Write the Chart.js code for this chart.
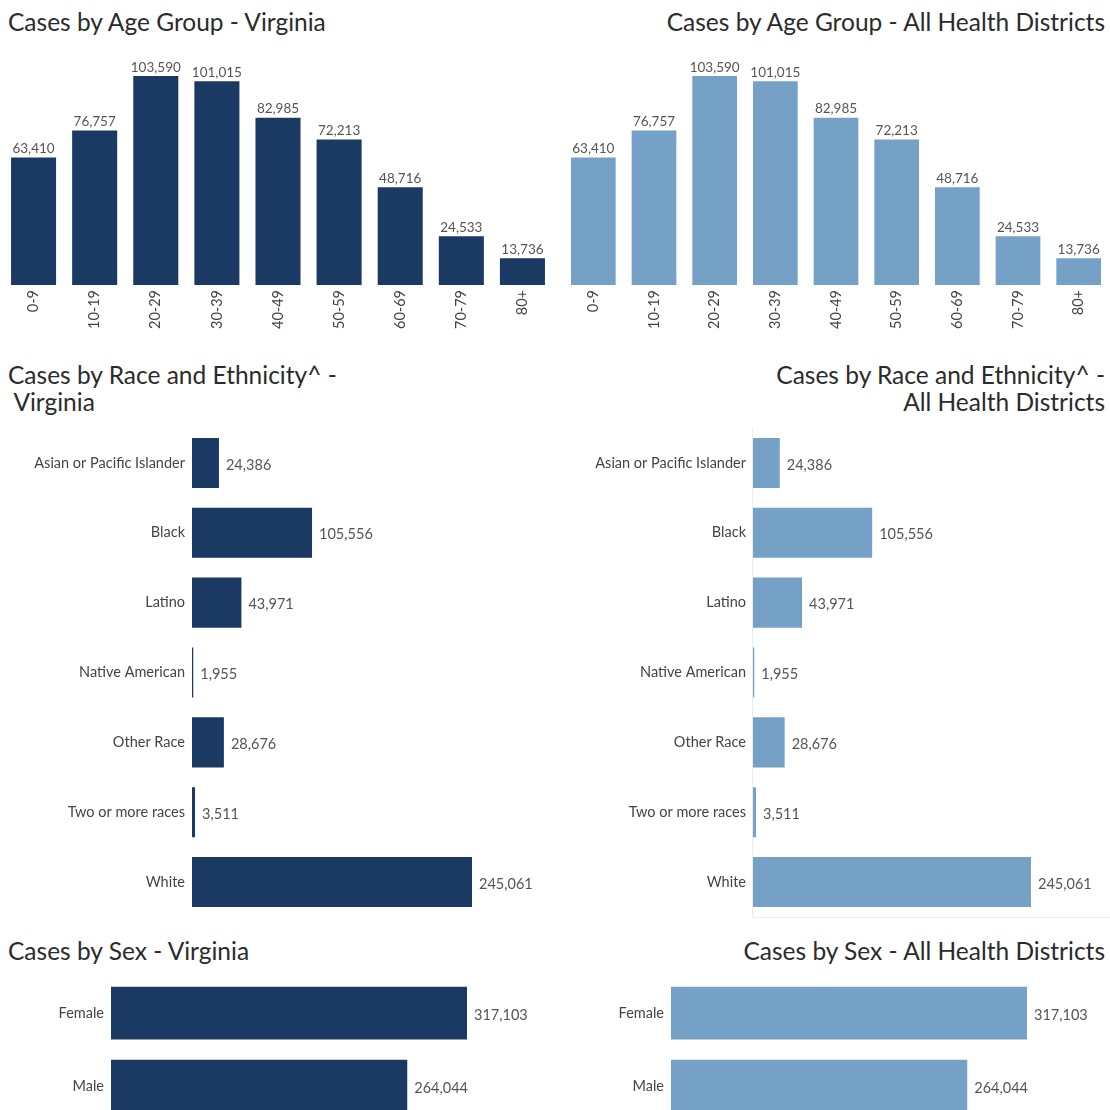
<!DOCTYPE html>
<html>
<head>
<meta charset="utf-8">
<title>Cases by Demographics</title>
<script src="https://cdn.jsdelivr.net/npm/chart.js@4"></script>
<style>
    body { margin: 0; width: 1110px; height: 1110px; overflow: hidden; background: #fff; font-family: Lato, sans-serif; }
    .title { position: absolute; font-size: 24.5px; color: #2b2b2b; line-height: 27px; white-space: pre; }
    .left { left: 8px; text-align: left; }
    .right { right: 5px; text-align: right; }
    canvas { position: absolute; }
</style>
</head>
<body>

<div class="title left" style="top:8px">Cases by Age Group - Virginia</div>
<div class="title right" style="top:8px">Cases by Age Group - All Health Districts</div>
<div class="title left" style="top:361px">Cases by Race and Ethnicity^ -
 Virginia</div>
<div class="title right" style="top:361px">Cases by Race and Ethnicity^ -
All Health Districts</div>
<div class="title left" style="top:937px">Cases by Sex - Virginia</div>
<div class="title right" style="top:937px">Cases by Sex - All Health Districts</div>

<canvas id="ageVA" width="556" height="340" style="left:0;top:0"></canvas>
<canvas id="ageHD" width="552" height="340" style="left:560px;top:0"></canvas>
<canvas id="raceVA" width="556" height="500" style="left:0;top:420px"></canvas>
<canvas id="raceHD" width="550" height="500" style="left:560px;top:420px"></canvas>
<canvas id="sexVA" width="556" height="160" style="left:0;top:970px"></canvas>
<canvas id="sexHD" width="550" height="160" style="left:560px;top:970px"></canvas>

<script>
// Case counts
const ageGroups = ['0-9', '10-19', '20-29', '30-39', '40-49', '50-59', '60-69', '70-79', '80+'];
const ageCases = [63410, 76757, 103590, 101015, 82985, 72213, 48716, 24533, 13736];

const raceGroups = ['Asian or Pacific Islander', 'Black', 'Latino', 'Native American', 'Other Race', 'Two or more races', 'White'];
const raceCases = [24386, 105556, 43971, 1955, 28676, 3511, 245061];

const sexGroups = ['Female', 'Male'];
const sexCases = [317103, 264044];

const DARK = '#1b3a63';
const LIGHT = '#75a1c7';

Chart.defaults.font.family = 'Lato, sans-serif';
Chart.defaults.animation = false;

// writes the count next to / above each bar
const valueLabels = {
    id: 'valueLabels',
    afterDatasetsDraw(chart) {
        const ctx = chart.ctx;
        const horizontal = chart.options.indexAxis === 'y';
        const meta = chart.getDatasetMeta(0);
        const values = chart.data.datasets[0].data;
        ctx.save();
        ctx.fillStyle = '#555';
        meta.data.forEach(function (bar, i) {
            const text = values[i].toLocaleString('en-US');
            if (horizontal) {
                ctx.font = '14.5px Lato, sans-serif';
                ctx.textAlign = 'left';
                ctx.textBaseline = 'middle';
                ctx.fillText(text, bar.x + 6, bar.y + 2);
            } else {
                ctx.font = '13.5px Lato, sans-serif';
                ctx.textAlign = 'center';
                ctx.textBaseline = 'bottom';
                ctx.fillText(text, bar.x, bar.y - 1);
            }
        });
        ctx.restore();
    }
};

// faint frame on the left and bottom of the plot
const frame = {
    id: 'frame',
    beforeDatasetsDraw(chart, args, opts) {
        if (!opts.show) return;
        const a = chart.chartArea;
        const ctx = chart.ctx;
        ctx.save();
        ctx.strokeStyle = '#ececec';
        ctx.lineWidth = 1;
        ctx.beginPath();
        ctx.moveTo(a.left - 0.5, a.top);
        ctx.lineTo(a.left - 0.5, a.bottom + 0.5);
        ctx.lineTo(chart.width, a.bottom + 0.5);
        ctx.stroke();
        ctx.restore();
    }
};

function ageChart(id, color) {
    new Chart(document.getElementById(id), {
        type: 'bar',
        data: {
            labels: ageGroups,
            datasets: [{
                data: ageCases,
                backgroundColor: color,
                borderColor: 'rgba(255,255,255,0.3)',
                borderWidth: 1,
                barPercentage: 0.77,
                categoryPercentage: 1
            }]
        },
        options: {
            responsive: false,
            layout: { padding: { top: 75, left: 3, right: 3, bottom: 0 } },
            plugins: { legend: { display: false }, tooltip: { enabled: false } },
            scales: {
                y: { display: false, min: 0, max: Math.max(...ageCases) },
                x: {
                    grid: { display: false, drawTicks: false },
                    border: { display: false },
                    ticks: { minRotation: 90, maxRotation: 90, padding: 5, color: '#444', font: { size: 14.5 } },
                    afterFit: function (scale) {
                        scale.height = 55;
                        scale.paddingLeft = 0;
                        scale.paddingRight = 0;
                    }
                }
            }
        },
        plugins: [valueLabels]
    });
}

function hbarChart(id, color, labels, values, opts) {
    new Chart(document.getElementById(id), {
        type: 'bar',
        data: {
            labels: labels,
            datasets: [{
                data: values,
                backgroundColor: color,
                borderColor: 'rgba(255,255,255,0.3)',
                borderWidth: 1,
                barPercentage: opts.bar,
                categoryPercentage: 1
            }]
        },
        options: {
            indexAxis: 'y',
            responsive: false,
            layout: { padding: opts.padding },
            plugins: { legend: { display: false }, tooltip: { enabled: false }, frame: { show: !!opts.frame } },
            scales: {
                x: { display: false, min: 0, max: Math.max(...values) },
                y: {
                    grid: { display: false, drawTicks: false },
                    border: { display: false },
                    ticks: { padding: 7, color: '#444', font: { size: 14.5 } },
                    afterFit: function (scale) {
                        scale.width = opts.labelWidth;
                        scale.paddingTop = 0;
                        scale.paddingBottom = 0;
                    }
                }
            }
        },
        plugins: [valueLabels, frame]
    });
}

ageChart('ageVA', DARK);
ageChart('ageHD', LIGHT);

hbarChart('raceVA', DARK, raceGroups, raceCases,
    { bar: 0.745, labelWidth: 192, padding: { top: 8, bottom: 3, left: 0, right: 83 } });
hbarChart('raceHD', LIGHT, raceGroups, raceCases,
    { bar: 0.745, labelWidth: 193, padding: { top: 8, bottom: 3, left: 0, right: 78 }, frame: true });

hbarChart('sexVA', DARK, sexGroups, sexCases,
    { bar: 0.75, labelWidth: 111, padding: { top: 6.5, bottom: 7.5, left: 0, right: 88 } });
hbarChart('sexHD', LIGHT, sexGroups, sexCases,
    { bar: 0.75, labelWidth: 111, padding: { top: 6.5, bottom: 7.5, left: 0, right: 82 } });
</script>
</body>
</html>
